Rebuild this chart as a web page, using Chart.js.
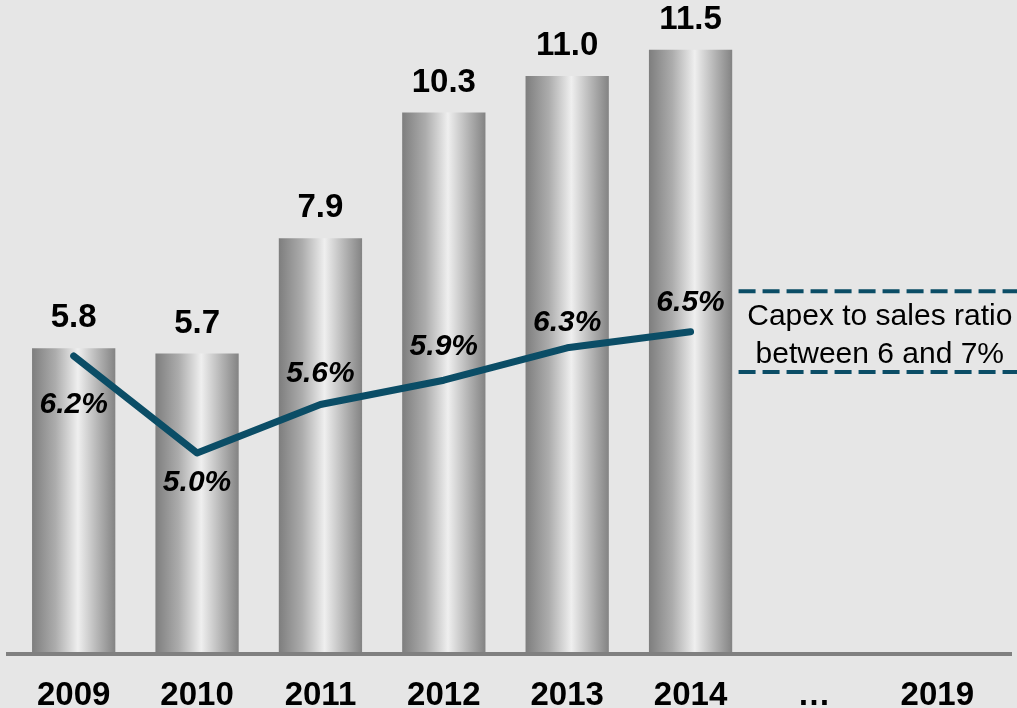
<!DOCTYPE html>
<html>
<head>
<meta charset="utf-8">
<script src="https://cdn.jsdelivr.net/npm/chart.js@4/dist/chart.umd.min.js"></script>
<style>
  html, body { margin: 0; padding: 0; background: #e6e6e6; }
  .chart-container { position: relative; width: 1017px; height: 708px; }
</style>
</head>
<body>
<div class="chart-container">
  <canvas id="capex-canvas"></canvas>
</div>
<script>
// Capex (bars) and capex-to-sales ratio (line)
const years = ['2009', '2010', '2011', '2012', '2013', '2014', '…', '2019'];
const capex = [5.8, 5.7, 7.9, 10.3, 11.0, 11.5, null, null];
const capexRatio = [6.2, 5.0, 5.6, 5.9, 6.3, 6.5, null, null];
const targetRange = [6, 7]; // % band for 2019
const targetNote = ['Capex to sales ratio', 'between 6 and 7%'];

// vertical offset of each ratio label from its point (px)
const ratioLabelDy = [49, 30, -31, -33, -25, -29];

const FONT = '"Liberation Sans", Arial, sans-serif';
const TEAL = '#0b4d66';
const BAR_PCT = 0.675;

function barGradient(c) {
  const chart = c.chart;
  const x = chart.scales.x;
  if (!x || !chart.chartArea) return '#aaaaaa';
  const cx = x.getPixelForValue(c.dataIndex);
  const half = (x.width / years.length) * BAR_PCT / 2;
  const g = chart.ctx.createLinearGradient(cx - half, 0, cx + half, 0);
  g.addColorStop(0, '#7e7e7e');
  g.addColorStop(0.28, '#acacac');
  g.addColorStop(0.55, '#efefef');
  g.addColorStop(0.8, '#b2b2b2');
  g.addColorStop(1, '#838383');
  return g;
}

const decorPlugin = {
  id: 'decor',
  beforeDatasetsDraw(chart) {
    // baseline
    const { ctx, chartArea } = chart;
    ctx.save();
    ctx.fillStyle = '#808080';
    ctx.fillRect(chartArea.left - 6, chartArea.bottom, chartArea.right - chartArea.left + 19, 4);
    ctx.restore();
  },
  afterDatasetsDraw(chart) {
    const { ctx } = chart;
    const x = chart.scales.x;
    const y2 = chart.scales.y2;
    const bars = chart.getDatasetMeta(0).data;
    const pts = chart.getDatasetMeta(1).data;
    ctx.save();
    ctx.fillStyle = '#000';
    ctx.textAlign = 'center';
    ctx.textBaseline = 'middle';

    // bar values
    ctx.font = 'bold 33px ' + FONT;
    capex.forEach((v, i) => {
      if (v == null) return;
      ctx.fillText(v.toFixed(1), bars[i].x, bars[i].y - 30);
    });

    // ratio labels
    ctx.font = 'italic bold 30px ' + FONT;
    capexRatio.forEach((v, i) => {
      if (v == null) return;
      ctx.fillText(v.toFixed(1) + '%', pts[i].x, pts[i].y + ratioLabelDy[i]);
    });

    // target band for 2019
    const x0 = x.getPixelForValue(5) + 48;
    const x1 = chart.width;
    ctx.strokeStyle = TEAL;
    ctx.lineWidth = 4;
    ctx.setLineDash([17, 7]);
    targetRange.forEach(v => {
      const yy = y2.getPixelForValue(v);
      ctx.beginPath();
      ctx.moveTo(x0, yy);
      ctx.lineTo(x1, yy);
      ctx.stroke();
    });
    ctx.setLineDash([]);
    const yTop = y2.getPixelForValue(targetRange[1]);
    const yBot = y2.getPixelForValue(targetRange[0]);
    const cx = (x0 + x1) / 2 + 2;
    ctx.font = '30px ' + FONT;
    ctx.fillText(targetNote[0], cx, yTop + (yBot - yTop) * 0.31);
    ctx.fillText(targetNote[1], cx, yTop + (yBot - yTop) * 0.79);
    ctx.restore();
  }
};

const ctx = document.getElementById('capex-canvas').getContext('2d');
new Chart(ctx, {
  type: 'bar',
  data: {
    labels: years,
    datasets: [
      {
        type: 'bar',
        label: 'Capex',
        data: capex,
        yAxisID: 'y',
        backgroundColor: barGradient,
        borderWidth: 0,
        categoryPercentage: 1,
        barPercentage: BAR_PCT,
        order: 2
      },
      {
        type: 'line',
        label: 'Capex to sales',
        data: capexRatio,
        yAxisID: 'y2',
        borderColor: TEAL,
        borderWidth: 7,
        borderCapStyle: 'round',
        borderJoinStyle: 'round',
        pointRadius: 0,
        tension: 0,
        fill: false,
        order: 1
      }
    ]
  },
  options: {
    responsive: true,
    maintainAspectRatio: false,
    animation: false,
    layout: { padding: { left: 12, right: 18, top: 0, bottom: 0 } },
    plugins: {
      legend: { display: false },
      tooltip: { enabled: false }
    },
    scales: {
      x: {
        grid: { display: false },
        border: { display: false },
        ticks: {
          color: '#000',
          padding: 19,
          maxRotation: 0,
          font: { family: FONT, size: 33, weight: 'bold', lineHeight: 1 }
        },
        afterFit: (scale) => { scale.height = 56; }
      },
      y: { display: false, min: 0, max: 12.45 },
      y2: { display: false, position: 'right', min: 2.54, max: 10.6 }
    }
  },
  plugins: [decorPlugin]
});
</script>
</body>
</html>
